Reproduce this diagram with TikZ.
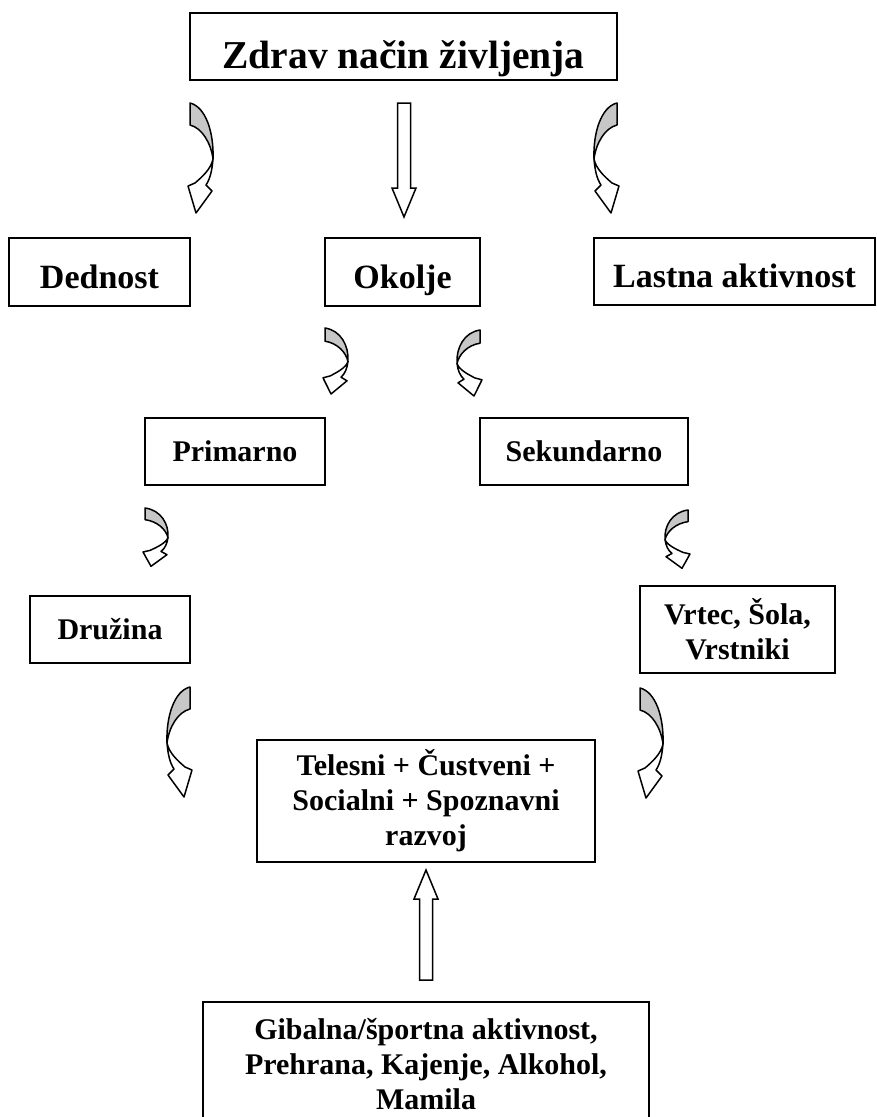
\documentclass[tikz,border=0pt]{standalone}
\usepackage{fontspec}
\setmainfont{Liberation Serif}
\usetikzlibrary{positioning}

% curved block arrow: #1 top corner, #2 = 1 bulges right / -1 bulges left, #3 height factor
\newcommand{\bendarrow}[3]{%
  \begin{scope}[shift={#1},xscale=#2,yscale=#3]
    \filldraw[fill=white,line width=1.5pt,line join=round]
      (23,56) .. controls (22,68) and (20,76) .. (16,82) -- (22,88) -- (6,110) -- (-2,83) -- (5,80)
      .. controls (12,74) and (21,66) .. (23,56) -- cycle;
    \filldraw[fill=black!22,line width=1.5pt,line join=round]
      (0,0) .. controls (16,4) and (24,30) .. (23,56) .. controls (21,40) and (12,25) .. (0,22) -- cycle;
  \end{scope}}
% straight block arrow: #1 start, #2 length, #3 rotation
\newcommand{\blockarrow}[3]{%
  \begin{scope}[shift={#1},rotate=#3]
    \draw[line width=1.5pt,fill=white,line join=miter]
      (-6.5,0) -- (6.5,0) -- (6.5,#2-29) -- (12,#2-29) -- (0,#2) -- (-12,#2-29) -- (-6.5,#2-29) -- cycle;
  \end{scope}}

\begin{document}
\begin{tikzpicture}[x=1pt,y=-1pt,
  n/.style={rectangle,draw,line width=1.5pt,align=center,inner sep=0pt},
  f1/.style={font=\fontsize{39.5}{45}\selectfont\bfseries,text height=43pt,text depth=0pt},
  f2/.style={font=\fontsize{34}{40}\selectfont\bfseries,text height=32pt,text depth=0pt},
  f3/.style={font=\fontsize{30}{35}\selectfont\bfseries}
]
\useasboundingbox (0,0) rectangle (877,1117);

\node[n,f1,minimum width=427pt,minimum height=67pt] (zdrav) at (403.5,46.5) {Zdrav način življenja};

\node[n,f2,minimum width=181pt,minimum height=68pt] (dednost) at (99.5,272) {Dednost};
\node[n,f2,minimum width=155pt,minimum height=68pt] (okolje) at (402.5,272) {Okolje};
\node[n,f2,minimum width=281pt,minimum height=67pt] (lastna) at (734.5,271.5) {Lastna aktivnost};

\node[n,f3,minimum width=180pt,minimum height=67pt] (primarno) at (235,451.5) {Primarno};
\node[n,f3,minimum width=208pt,minimum height=67pt] (sekundarno) at (584,451.5) {Sekundarno};

\node[n,f3,minimum width=160pt,minimum height=67pt] (druzina) at (110,629.5) {Družina};
\node[n,f3,minimum width=195pt,minimum height=87pt] (vrtec) at (737.5,629.5) {Vrtec, Šola,\\Vrstniki};

\node[n,f3,minimum width=338pt,minimum height=122pt] (razvoj) at (426,801) {Telesni + Čustveni +\\Socialni + Spoznavni\\razvoj};
\node[n,f3,minimum width=446pt,minimum height=124pt] (gibanje) at (426,1064) {Gibalna/športna aktivnost,\\Prehrana, Kajenje, Alkohol,\\Mamila};

% arrows
\bendarrow{(190,103)}{1}{1}
\blockarrow{(404,103)}{114}{0}
\bendarrow{(617,103)}{-1}{1}
\bendarrow{(325,328)}{1}{0.6}
\bendarrow{(480,330)}{-1}{0.6}
\bendarrow{(145,508)}{1}{0.53}
\bendarrow{(688,510)}{-1}{0.53}
\bendarrow{(190,687)}{-1}{1}
\bendarrow{(640,688)}{1}{1}
\blockarrow{(426,980)}{110}{180}
\end{tikzpicture}
\end{document}
